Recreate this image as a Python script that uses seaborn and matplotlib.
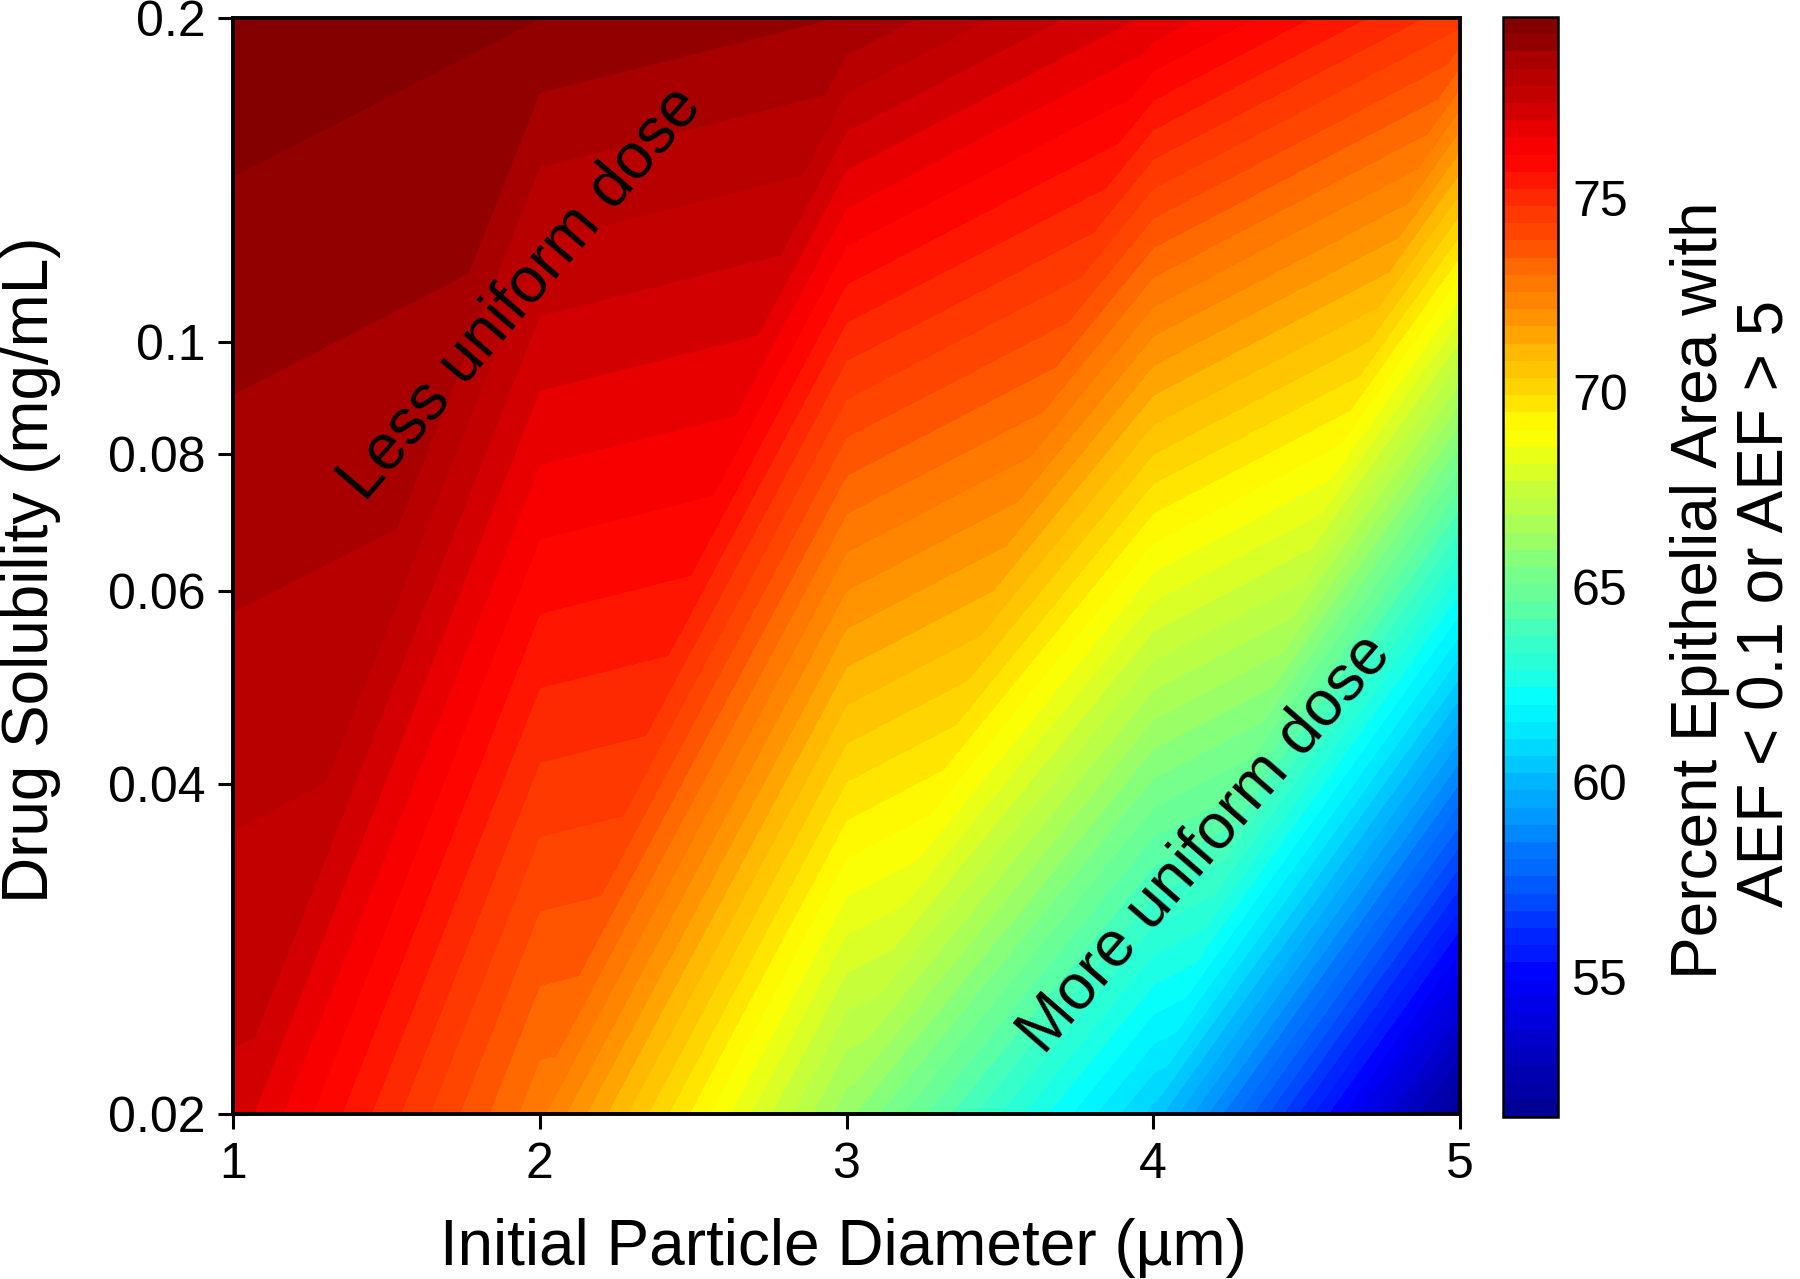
import numpy as np
import matplotlib
matplotlib.use("Agg")
import matplotlib.pyplot as plt
import matplotlib.tri as mtri
from matplotlib.colors import LinearSegmentedColormap
import seaborn as sns

# Corner values of the surface
diameter = [1, 2, 3, 4, 5]
solubility = [0.02, 0.2]
area_low_sol = [77.3, 72.7, 66.1, 60.5, 51.5]
area_high_sol = [79.52, 79.2, 78.74, 76.9, 74.5]

# the 0.1 tick sits slightly high in the original
sol_ticks = [0.02, 0.04, 0.06, 0.08, 0.1013, 0.2]
sol_labels = ["0.02", "0.04", "0.06", "0.08", "0.1", "0.2"]
cbar_ticks = [55, 60, 65, 70, 75]
cbar_min, cbar_max = 51.4, 79.64

sns.set_theme(style="ticks")
plt.rcParams['font.family'] = ['Liberation Sans', 'DejaVu Sans']

# MATLAB style jet, 64 bands
jet = LinearSegmentedColormap.from_list("matlab_jet", [
    (0.0, (0, 0, 0.5625)), (0.125, (0, 0, 1)), (0.375, (0, 1, 1)),
    (0.625, (1, 1, 0)), (0.875, (1, 0, 0)), (1.0, (0.5, 0, 0))], N=256)
levels = np.linspace(cbar_min, cbar_max, 65)

fig = plt.figure(figsize=(18, 12.79), dpi=100)
W, H = 1800, 1279
ax = fig.add_axes([233 / W, 1 - 1114 / H, (1460 - 233) / W, (1114 - 18) / H])
cax = fig.add_axes([1503 / W, 1 - 1117 / H, (1558 - 1503) / W, (1117 - 17) / H])

# two rows only, each cell split along its rising diagonal, linear in log y
xs = np.array(diameter * 2, dtype=float)
ys = np.log10(np.array([solubility[0]] * 5 + [solubility[1]] * 5))
zs = np.array(area_low_sol + area_high_sol)
tris = []
for i in range(4):
    tris.append([i, i + 5, i + 6])
    tris.append([i, i + 1, i + 6])
tri = mtri.Triangulation(xs, ys, tris)
cs = ax.tricontourf(tri, zs, levels=levels, cmap=jet, vmin=cbar_min, vmax=cbar_max)

ax.set_xlim(1, 5)
ax.set_ylim(np.log10(0.02), np.log10(0.2))
ax.set_xticks(diameter)
ax.set_yticks(np.log10(sol_ticks))
ax.set_yticklabels(sol_labels)
ax.tick_params(axis='both', direction='inout', length=22, width=2.2, labelsize=36,
               color='black', labelcolor='black')
ax.tick_params(axis='x', pad=9)
ax.tick_params(axis='y', pad=9)
for s in ax.spines.values():
    s.set_linewidth(2.8)
    s.set_color('black')
    s.set_zorder(5)

ax.text(1.94, np.log10(0.1121), "Less uniform dose", fontsize=46, rotation=49.5,
        ha='center', va='center', rotation_mode='anchor', color='black')
ax.text(4.17, np.log10(0.0353), "More uniform dose", fontsize=46, rotation=49,
        ha='center', va='center', rotation_mode='anchor', color='black')

cbar = fig.colorbar(cs, cax=cax)
cbar.set_ticks(cbar_ticks)
cax.minorticks_off()
cax.tick_params(axis='y', direction='in', left=True, right=True, length=7, width=1.8,
                labelsize=36, pad=10, color='black', labelcolor='black')
cbar.outline.set_linewidth(1.8)
cbar.outline.set_edgecolor('black')

fig.text(843 / W, 1 - 1248 / H, "Initial Particle Diameter (µm)", fontsize=46,
         ha='center', va='center', color='black')
fig.text(31 / W, 1 - 570 / H, "Drug Solubility (mg/mL)", fontsize=46, rotation=90,
         ha='center', va='center', color='black')
# the two lines of the colourbar title, kept apart so the second stays on the canvas
fig.text(1700 / W, 1 - 590 / H, "Percent Epithelial Area with", fontsize=46, rotation=90,
         ha='center', va='center', color='black')
fig.text(1767 / W, 1 - 603 / H, "AEF < 0.1 or AEF > 5", fontsize=46, rotation=90,
         ha='center', va='center', color='black')

fig.savefig("out.png", dpi=100)
